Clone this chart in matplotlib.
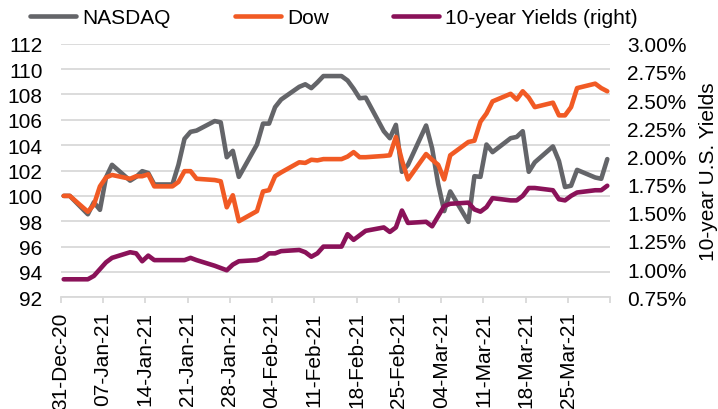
import pandas as pd
import matplotlib
matplotlib.use("Agg")
from matplotlib import pyplot as plt

# weekdays 31-Dec-20 .. 31-Mar-21 (holidays carry the previous value)
dates = pd.bdate_range("2020-12-31", "2021-03-31")

nasdaq = [
    100.0, 100.0,
    98.55, 99.5, 98.9, 101.45, 102.45,
    101.2, 101.5, 101.95, 101.8, 100.9,
    100.9, 102.45, 104.5, 105.05, 105.15,
    105.9, 105.8, 103.05, 103.55, 101.5,
    104.05, 105.7, 105.7, 107.0, 107.6,
    108.6, 108.8, 108.5, 108.95, 109.45,
    109.45, 109.1, 108.45, 107.7, 107.75,
    105.1, 104.55, 105.6, 101.9, 102.45,
    105.55, 103.75, 100.95, 98.8, 100.35,
    97.95, 101.55, 101.5, 104.05, 103.45,
    104.55, 104.65, 105.1, 101.9, 102.65,
    103.9, 102.75, 100.7, 100.8, 102.05,
    101.45, 101.35, 102.9]

dow = [
    100.0, 100.0,
    98.75, 99.3, 100.75, 101.45, 101.65,
    101.35, 101.55, 101.55, 101.7, 100.75,
    100.75, 101.1, 101.95, 101.95, 101.35,
    101.25, 101.15, 99.1, 100.05, 98.0,
    98.8, 100.35, 100.45, 101.55, 101.85,
    102.65, 102.6, 102.85, 102.8, 102.9,
    102.9, 103.1, 103.45, 103.05, 103.05,
    103.15, 103.2, 104.65, 102.8, 101.3,
    103.3, 102.85, 102.45, 101.3, 103.2,
    104.25, 104.35, 105.85, 106.5, 107.45,
    108.05, 107.6, 108.25, 107.75, 107.0,
    107.35, 106.35, 106.35, 107.0, 108.5,
    108.85, 108.5, 108.25]

yields = [
    0.91, 0.91,
    0.91, 0.94, 1.00, 1.06, 1.10,
    1.15, 1.14, 1.07, 1.12, 1.08,
    1.08, 1.08, 1.08, 1.10, 1.08,
    1.03, 1.01, 0.99, 1.04, 1.07,
    1.08, 1.10, 1.14, 1.14, 1.16,
    1.17, 1.15, 1.11, 1.14, 1.20,
    1.20, 1.31, 1.26, 1.30, 1.34,
    1.37, 1.33, 1.37, 1.52, 1.41,
    1.42, 1.38, 1.47, 1.56, 1.58,
    1.59, 1.53, 1.51, 1.55, 1.63,
    1.61, 1.61, 1.65, 1.72, 1.72,
    1.70, 1.62, 1.61, 1.65, 1.68,
    1.70, 1.70, 1.74]

left_ticks = list(range(92, 113, 2))
right_ticks = [0.75 + 0.25 * i for i in range(10)]
week_ticks = pd.date_range("2020-12-31", "2021-04-01", freq="7D")

GRAY = "#646569"
ORANGE = "#F15A24"
PURPLE = "#8A1259"
GRID = "#d9d9d9"

plt.rcParams['font.family'] = ['Liberation Sans', 'DejaVu Sans']
plt.rcParams['font.size'] = 15

fig = plt.figure(figsize=(7.18, 4.10), dpi=100)
ax = fig.add_axes([0.0845, 0.2724, 0.7655, 0.6185])

# points sit in the middle of each day slot
xs = dates + pd.Timedelta(hours=12)
line_kw = dict(lw=3.3, solid_capstyle='round', solid_joinstyle='round')
l1, = ax.plot(xs, nasdaq, color=GRAY, label='NASDAQ', **line_kw)
l2, = ax.plot(xs, dow, color=ORANGE, label='Dow', **line_kw)

ax.set_xlim(pd.Timestamp("2020-12-31"), pd.Timestamp("2021-04-01"))
ax.set_ylim(92, 112)
ax.set_yticks(left_ticks)
ax.set_xticks(week_ticks)
ax.set_xticklabels([d.strftime('%d-%b-%y') for d in week_ticks[:-1]] + [''])
ax.grid(axis='y', color=GRID, lw=1.3)
ax.set_axisbelow(True)
for s in ['top', 'right', 'left']:
    ax.spines[s].set_visible(False)
ax.spines['bottom'].set_color(GRID)
ax.spines['bottom'].set_linewidth(1.3)
ax.tick_params(axis='x', rotation=90, length=4, width=1.3, color=GRID, pad=6)
ax.tick_params(axis='y', length=0, pad=13)

ax2 = ax.twinx()
l3, = ax2.plot(xs, yields, color=PURPLE, label='10-year Yields (right)', **line_kw)
ax2.set_ylim(0.75, 3.0)
ax2.set_yticks(right_ticks)
ax2.set_yticklabels(['{:.2f}%'.format(v) for v in right_ticks])
for s in ax2.spines.values():
    s.set_visible(False)
ax2.tick_params(axis='y', length=0, pad=12)
ax2.set_ylabel('10-year U.S. Yields', labelpad=9)

fig.legend(handles=[l1, l2, l3], loc='center', bbox_to_anchor=(0.465, 0.955),
           ncol=3, frameon=False, handlelength=2.2, handletextpad=0.3,
           columnspacing=3.1, borderaxespad=0)

fig.savefig('out.png', dpi=100)
